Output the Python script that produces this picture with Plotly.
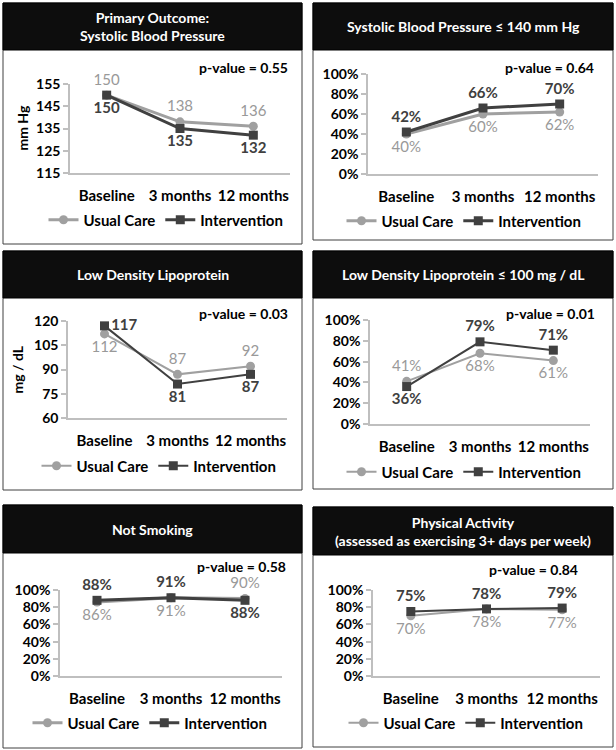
import plotly.graph_objects as go

categories = ["Baseline", "3 months", "12 months"]

sbp_usual = [150, 138, 136]
sbp_interv = [150, 135, 132]
sbp140_usual = [0.40, 0.60, 0.62]
sbp140_interv = [0.42, 0.66, 0.70]
ldl_usual = [112, 87, 92]
ldl_interv = [117, 81, 87]
ldl100_usual = [0.41, 0.68, 0.61]
ldl100_interv = [0.36, 0.79, 0.71]
smoke_usual = [0.86, 0.91, 0.90]
smoke_interv = [0.88, 0.91, 0.88]
activity_usual = [0.70, 0.78, 0.77]
activity_interv = [0.75, 0.78, 0.79]

panel_titles = [
    "Primary Outcome:<br>Systolic Blood Pressure",
    "Systolic Blood Pressure ≤ 140 mm Hg",
    "Low Density Lipoprotein",
    "Low Density Lipoprotein ≤ 100 mg / dL",
    "Not Smoking",
    "Physical Activity<br>(assessed as exercising 3+ days per week)",
]
p_values = ["0.55", "0.64", "0.03", "0.01", "0.58", "0.84"]
y_titles = ["mm Hg", None, "mg / dL", None, None, None]
series_names = ["Usual Care", "Intervention"]

W, H = 616, 750
FONT = "Lato"
UC_COL = "#a0a0a0"
UC_TXT = "#999999"
IN_COL = "#404040"
AX_COL = "#bfbfbf"


def fx(x):
    return x / W


def fy(y):
    return 1 - y / H


panels = [
    dict(usual=sbp_usual, interv=sbp_interv, pct=False,
         box=(3, 3, 302, 50, 244), plot=(70, 84, 290, 173), rng=[115, 155], dtick=10,
         upos=["top center"] * 3, ipos=["bottom center"] * 3, lw=3,
         pv=(290, 67), leg=(166, 220), ytl=22),
    dict(usual=sbp140_usual, interv=sbp140_interv, pct=True,
         box=(313, 3, 613, 50, 240), plot=(368, 74, 598, 174), rng=[0, 1], dtick=0.2,
         upos=["bottom center"] * 3, ipos=["top center"] * 3, lw=3,
         pv=(596, 67), leg=(464, 221), ytl=None),
    dict(usual=ldl_usual, interv=ldl_interv, pct=False,
         box=(3, 251, 302, 298, 490), plot=(68, 321, 287, 418), rng=[60, 120], dtick=15,
         upos=["bottom center", "top center", "top center"],
         ipos=["middle right", "bottom center", "bottom center"], lw=2,
         pv=(290, 313), leg=(159, 466), ytl=17),
    dict(usual=ldl100_usual, interv=ldl100_interv, pct=True,
         box=(313, 251, 613, 298, 489), plot=(370, 320, 590, 424), rng=[0, 1], dtick=0.2,
         upos=["top center", "bottom center", "bottom center"],
         ipos=["bottom center", "top center", "top center"], lw=2,
         pv=(597, 313), leg=(464, 472), ytl=None),
    dict(usual=smoke_usual, interv=smoke_interv, pct=True,
         box=(3, 505, 302, 553, 748), plot=(60, 590, 282, 676), rng=[0, 1], dtick=0.2,
         upos=["bottom center", "bottom center", "top center"],
         ipos=["top center", "top center", "bottom center"], lw=3,
         pv=(288, 566), leg=(150, 723), ytl=None),
    dict(usual=activity_usual, interv=activity_interv, pct=True,
         box=(313, 507, 613, 555, 747), plot=(373, 590, 600, 676), rng=[0, 1], dtick=0.2,
         upos=["bottom center"] * 3, ipos=["top center"] * 3, lw=2,
         pv=(580, 569), leg=(466, 723), ytl=None),
]

fig = go.Figure()
shapes = []
annotations = []
layout_extra = {}


def fmt(v, pct):
    return f"{round(v * 100)}%" if pct else f"{v}"


for i, p in enumerate(panels):
    n = "" if i == 0 else str(i + 1)
    xa, ya = "x" + n, "y" + n
    leg = "legend" + n
    x0, y0, x1, yh, yb = p["box"]
    shapes.append(dict(type="rect", xref="paper", yref="paper",
                       x0=fx(x0), x1=fx(x1), y0=fy(yb), y1=fy(y0),
                       line=dict(color="#404040", width=1), fillcolor="white", layer="below"))
    shapes.append(dict(type="rect", xref="paper", yref="paper",
                       x0=fx(x0), x1=fx(x1), y0=fy(yh), y1=fy(y0),
                       line=dict(color="#000000", width=1), fillcolor="#0d0d0d", layer="below"))
    annotations.append(dict(xref="paper", yref="paper", x=fx((x0 + x1) / 2), y=fy((y0 + yh) / 2),
                            text="<b>" + panel_titles[i] + "</b>", showarrow=False,
                            xanchor="center", yanchor="middle",
                            font=dict(family=FONT, size=14, color="white")))
    annotations.append(dict(xref="paper", yref="paper", x=fx(p["pv"][0]), y=fy(p["pv"][1]),
                            text="<b>p-value = " + p_values[i] + "</b>", showarrow=False,
                            xanchor="right", yanchor="middle",
                            font=dict(family=FONT, size=14, color="black")))
    if y_titles[i]:
        annotations.append(dict(xref="paper", yref="paper", x=fx(p["ytl"]),
                                y=fy((p["plot"][1] + p["plot"][3]) / 2),
                                text="<b>" + y_titles[i] + "</b>", showarrow=False, textangle=-90,
                                xanchor="center", yanchor="middle",
                                font=dict(family=FONT, size=14, color="black")))
    px0, py0, px1, py1 = p["plot"]
    xaxis = dict(domain=[fx(px0), fx(px1)], anchor=ya, type="category",
                 range=[-0.5, 2.5], showline=True, linecolor=AX_COL, linewidth=1.5,
                 showgrid=False, zeroline=False, ticks="", ticklabelstandoff=8,
                 tickfont=dict(family=FONT, size=15, color="black", weight="bold"),
                 fixedrange=True, automargin=False)
    yaxis = dict(domain=[fy(py1), fy(py0)], anchor=xa, range=p["rng"], dtick=p["dtick"],
                 tick0=p["rng"][0], showline=True, linecolor=AX_COL, linewidth=1.5,
                 showgrid=False, zeroline=False, ticks="outside", ticklen=5, tickcolor=AX_COL,
                 tickwidth=1.5,
                 tickformat=".0%" if p["pct"] else "d",
                 tickfont=dict(family=FONT, size=14, color="black", weight="bold"),
                 fixedrange=True, automargin=False)
    layout_extra["xaxis" + n] = xaxis
    layout_extra["yaxis" + n] = yaxis
    layout_extra[leg] = dict(orientation="h", x=fx(p["leg"][0]), y=fy(p["leg"][1]),
                             xanchor="center", yanchor="middle", bgcolor="rgba(0,0,0,0)",
                             font=dict(family=FONT, size=15, color="black", weight="bold"),
                             itemwidth=30, tracegroupgap=0)
    fig.add_trace(go.Scatter(
        x=categories, y=p["usual"], xaxis=xa, yaxis=ya, legend=leg,
        name=series_names[0], mode="lines+markers+text",
        line=dict(color=UC_COL, width=p["lw"]),
        marker=dict(symbol="circle", size=9, color=UC_COL),
        text=[fmt(v, p["pct"]) for v in p["usual"]], textposition=p["upos"],
        textfont=dict(family=FONT, size=15, color=UC_TXT), cliponaxis=False,
    ))
    fig.add_trace(go.Scatter(
        x=categories, y=p["interv"], xaxis=xa, yaxis=ya, legend=leg,
        name=series_names[1], mode="lines+markers+text",
        line=dict(color=IN_COL, width=p["lw"]),
        marker=dict(symbol="square", size=9, color=IN_COL),
        text=[fmt(v, p["pct"]) for v in p["interv"]], textposition=p["ipos"],
        textfont=dict(family=FONT, size=15, color=IN_COL, weight="bold"), cliponaxis=False,
    ))

fig.update_layout(
    width=W, height=H, margin=dict(l=0, r=0, t=0, b=0, pad=0, autoexpand=False),
    paper_bgcolor="white", plot_bgcolor="rgba(0,0,0,0)",
    shapes=shapes, annotations=annotations, showlegend=True,
    **layout_extra,
)

fig.write_html("out.html", config={"displayModeBar": False},
               post_script="document.body.style.margin='0';")
